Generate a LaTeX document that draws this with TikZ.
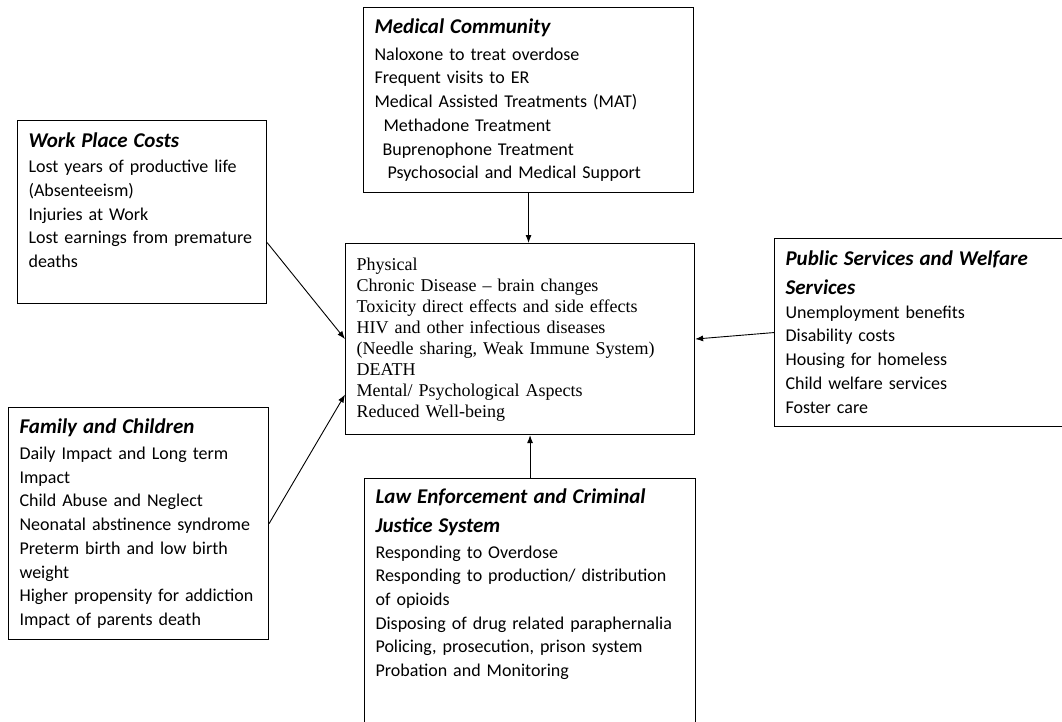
\documentclass[tikz,border=0pt]{standalone}
\usepackage{fontspec}
\setmainfont{Carlito}
\newfontfamily\timesfont{Liberation Serif}
\usetikzlibrary{arrows.meta,calc}
\newcommand{\boxhead}[1]{{\fontsize{21}{24}\selectfont\bfseries\itshape #1}}

\begin{document}
\begin{tikzpicture}[x=1pt,y=-1pt,
                    every node/.style={font=\fontsize{18}{23.7}\selectfont},
                    costbox/.style={draw,line width=1.1pt,anchor=north west,
                      align=left,inner xsep=11pt,inner ysep=0pt},
                    ar/.style={-{Latex[length=8pt,width=6pt]},line width=0.9pt}]
  \useasboundingbox (0,0) rectangle (1062,721);
  \node[costbox, text width=308pt, text height=26pt, text depth=159pt]
    (medical) at (363,7)
    {\boxhead{Medical Community}\\[3pt]
     Naloxone to treat overdose\\
     Frequent visits to ER\\
     Medical Assisted Treatments (MAT)\\
     \hspace*{9pt}Methadone Treatment\\
     \hspace*{8pt}Buprenophone Treatment\\
     \hspace*{13pt}Psychosocial and Medical Support};
  \node[costbox, text width=227pt, text height=27pt, text depth=156pt]
    (work) at (17,120)
    {\boxhead{Work Place Costs}\\[1.5pt]
     Lost years of productive life\\
     (Absenteeism)\\
     Injuries at Work\\
     Lost earnings from premature\\
     deaths};
  \node[costbox, text width=238pt, text height=26pt, text depth=206pt]
    (family) at (8,407)
    {\boxhead{Family and Children}\\[2.3pt]
     Daily Impact and Long term\\
     Impact\\
     Child Abuse and Neglect\\
     Neonatal abstinence syndrome\\
     Preterm birth and low birth\\
     weight\\
     Higher propensity for addiction\\
     Impact of parents death};
  \node[costbox, text width=327pt, text height=27pt, text depth=164pt,
        font=\timesfont\fontsize{18}{21}\selectfont]
    (center) at (345,243)
    {Physical\\
     Chronic Disease \textendash{} brain changes\\
     Toxicity direct effects and side effects\\
     HIV and other infectious diseases\\
     (Needle sharing, Weak Immune System)\\
     DEATH\\
     Mental/ Psychological Aspects\\
     Reduced Well-being};
  \node[costbox, text width=274pt, text height=27pt, text depth=161pt]
    (public) at (774,238)
    {\boxhead{Public Services and Welfare}\\[4.8pt]
     \boxhead{Services}\\[0.5pt]
     Unemployment benefits\\
     Disability costs\\
     Housing for homeless\\
     Child welfare services\\
     Foster care};
  \node[costbox, text width=309pt, text height=25pt, text depth=237pt]
    (law) at (364,478)
    {\boxhead{Law Enforcement and Criminal}\\[4.8pt]
     \boxhead{Justice System}\\[2.3pt]
     Responding to Overdose\\
     Responding to production/ distribution\\
     of opioids\\
     Disposing of drug related paraphernalia\\
     Policing, prosecution, prison system\\
     Probation and Monitoring};
  \draw[ar] (medical.south) -- (medical.south |- center.north);
  \draw[ar] (law.north) -- (law.north |- center.south);
  \draw[ar] ([yshift=-30.5pt]work.east) -- (center.west);
  \draw[ar] (family.east) -- ([yshift=-55.5pt]center.west);
  \draw[ar] (public.west) -- (center.east);
\end{tikzpicture}
\end{document}
